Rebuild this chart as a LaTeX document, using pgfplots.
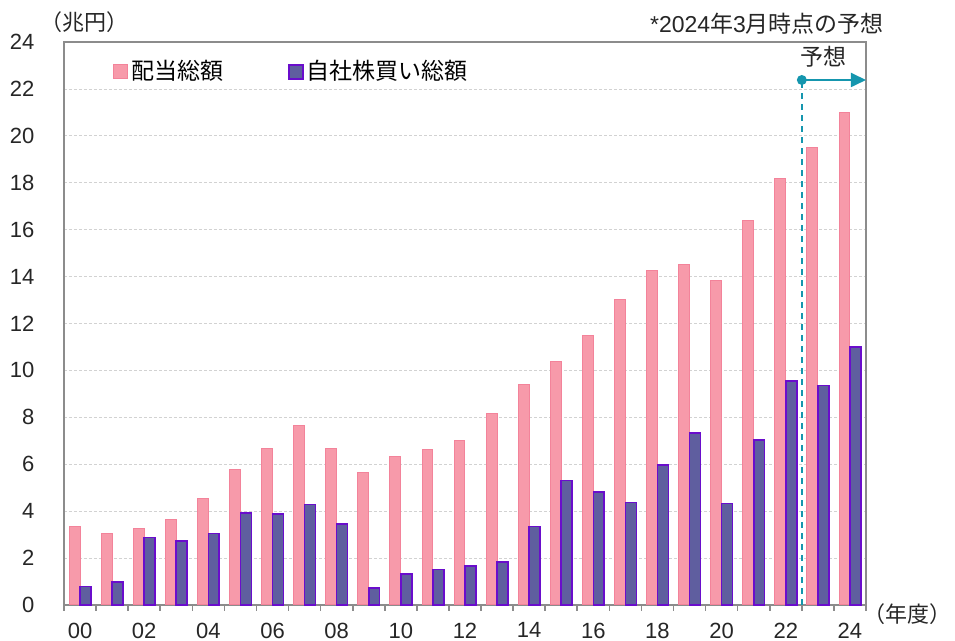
\documentclass[border=0pt]{standalone}
\usepackage{fontspec}
\setmainfont{Liberation Sans}
\newfontfamily\jp{Noto Sans CJK JP}
\usepackage{pgfplots}
\pgfplotsset{compat=1.18}
\usetikzlibrary{arrows.meta}

\definecolor{divfill}{HTML}{F79AAA}
\definecolor{divedge}{HTML}{F3839A}
\definecolor{bbfill}{HTML}{5F5E9F}
\definecolor{bbedge}{HTML}{6A0DCC}
\definecolor{fcst}{HTML}{1596AE}
\definecolor{axgray}{HTML}{8C8C8C}

\begin{document}
\fontsize{11}{13}\selectfont
\begin{tikzpicture}
\useasboundingbox (-32pt,-18pt) rectangle (445.5pt,302.5pt);
\begin{axis}[
    at={(0,0)}, anchor=south west,
    scale only axis, width=401pt, height=281.5pt,
    xmin=-0.5, xmax=24.5, ymin=0, ymax=24,
    xtick={0,2,...,24},
    xticklabels={00,02,04,06,08,10,12,14,16,18,20,22,24},
    minor xtick={-0.5,0.5,...,24.5},
    ytick={0,2,...,24},
    major tick length=0pt, minor tick length=3pt,
    tick align=outside,
    xtick pos=bottom, ytick pos=left,
    minor tick style={axgray, line width=0.8pt},
    axis line style={axgray, line width=0.9pt},
    ymajorgrids,
    major grid style={gray!35, dash pattern=on 1.5pt off 1pt, line width=0.4pt},
    xticklabel style={yshift=-5pt},
    yticklabel style={xshift=-11pt},
    /pgf/number format/assume math mode=true,
    tick label style={font=\fontsize{11}{13}\selectfont, text=black!85},
    clip=false,
    legend style={draw=none, fill=none, at={(axis description cs:0.061,0.947)}, anchor=west,
        legend columns=2, inner sep=0pt, nodes={inner sep=1.5pt},
        font=\jp\fontsize{11.5}{13}\selectfont,
        /tikz/every even column/.append style={column sep=31pt}},
]
\addplot[ybar, bar width=0.34, bar shift=-0.17, fill=divfill, draw=divedge, line width=0.5pt,
    legend image code/.code={\draw[fill=divfill, draw=divedge, line width=0.5pt] (0pt,-3.5pt) rectangle (7pt,3.5pt);}]
coordinates {
(0,3.34) (1,3.03) (2,3.27) (3,3.63) (4,4.53) (5,5.79) (6,6.69) (7,7.64) (8,6.66)
(9,5.63) (10,6.31) (11,6.64) (12,7.00) (13,8.17) (14,9.42) (15,10.36) (16,11.48)
(17,13.02) (18,14.26) (19,14.50) (20,13.82) (21,16.38) (22,18.20) (23,19.52) (24,21.00)
};
\addlegendentry{配当総額}
\addplot[ybar, bar width=0.34, bar shift=0.17, fill=bbfill, draw=bbedge, line width=0.8pt,
    legend image code/.code={\draw[fill=bbfill, draw=bbedge, line width=0.8pt] (0pt,-3.5pt) rectangle (7pt,3.5pt);}]
coordinates {
(0,0.79) (1,0.97) (2,2.87) (3,2.74) (4,3.04) (5,3.93) (6,3.87) (7,4.29) (8,3.46)
(9,0.73) (10,1.31) (11,1.51) (12,1.66) (13,1.83) (14,3.34) (15,5.31) (16,4.81)
(17,4.37) (18,5.97) (19,7.33) (20,4.33) (21,7.04) (22,9.55) (23,9.35) (24,11.01)
};
\addlegendentry{自社株買い総額}

% forecast marker
\draw[fcst, line width=0.8pt, dash pattern=on 3pt off 2.5pt] (axis cs:22.5,0) -- (axis cs:22.5,22.38);
\draw[fcst, line width=0.9pt, -{Triangle[length=7.5pt,width=7pt]}] (axis cs:22.5,22.38) -- (axis cs:24.5,22.38);
\fill[fcst] (axis cs:22.5,22.38) circle (2.5pt);
\node[font=\jp\fontsize{11.5}{13}\selectfont, text=black!85] at (axis cs:23.16,23.36) {予想};

\node[font=\jp\fontsize{11}{13}\selectfont, text=black!85] at (axis description cs:0.025,1.036) {（兆円）};
\node[font=\fontsize{11.5}{13}\selectfont, text=black!85] at (axis description cs:0.8766,1.032) {*2024{\jp 年}3{\jp 月時点の予想}};
\node[font=\jp\fontsize{11}{13}\selectfont, text=black!85, inner sep=0pt, anchor=east] at (axis description cs:1.107,-0.016) {（年度）};
\end{axis}
\end{tikzpicture}
\end{document}
